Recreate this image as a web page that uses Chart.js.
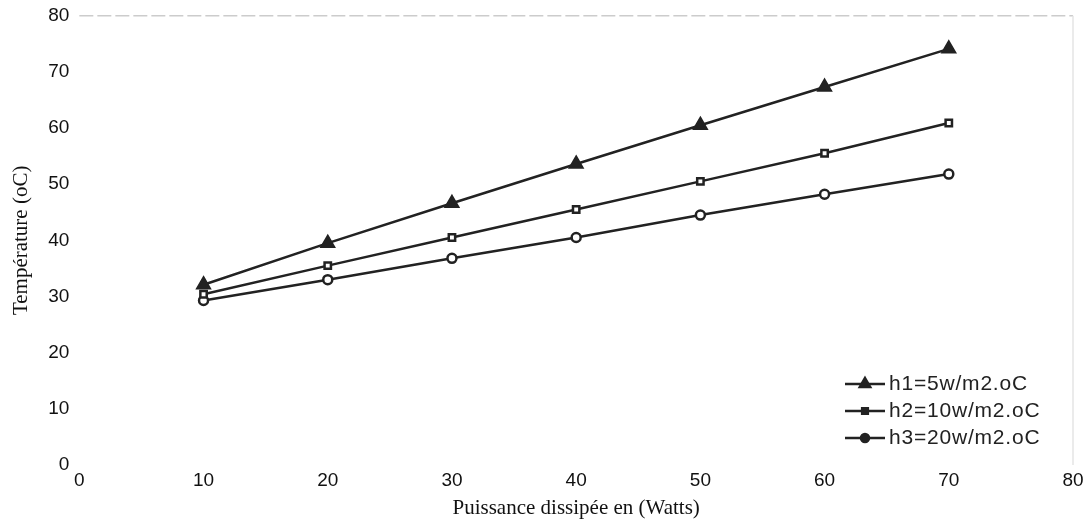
<!DOCTYPE html>
<html>
<head>
<meta charset="utf-8">
<title>Température vs puissance</title>
<script src="https://cdn.jsdelivr.net/npm/chart.js@4/dist/chart.umd.min.js"></script>
<style>
  html, body { margin: 0; padding: 0; background: #fff; }
  #chart { display: block; }
</style>
</head>
<body>
<canvas id="chart" width="1091" height="526"></canvas>
<script>
// puissance (W)
const puissance = [10, 20, 30, 40, 50, 60, 70];
// températures
const h1 = [32.1, 39.5, 46.6, 53.6, 60.5, 67.3, 74.1];
const h2 = [30.4, 35.5, 40.5, 45.5, 50.5, 55.5, 60.9];
const h3 = [29.3, 33.0, 36.8, 40.5, 44.5, 48.2, 51.8];
const noms = ['h1=5w/m2.oC', 'h2=10w/m2.oC', 'h3=20w/m2.oC'];
const styles = ['triangle', 'rect', 'circle'];

const ink = '#222';

function pts(ys) {
  return puissance.map((x, i) => ({ x: x, y: ys[i] }));
}

function serie(label, ys, style) {
  return {
    label: label,
    data: pts(ys),
    borderColor: ink,
    borderWidth: 2.5,
    pointStyle: style,
    pointRadius: style == 'triangle' ? 7 : 4.5,
    pointBorderWidth: 2.5,
    pointBorderColor: ink,
    pointBackgroundColor: style == 'triangle' ? ink : '#fff',
    tension: 0
  };
}

// legende dans le cadre, en bas a droite
const legendeInterne = {
  id: 'legendeInterne',
  afterDraw(chart) {
    const ctx = chart.ctx;
    const area = chart.chartArea;
    const x0 = area.right - 228;
    let y = area.bottom - 81;
    ctx.save();
    ctx.font = '21px "Liberation Sans", Arial, sans-serif';
    ctx.letterSpacing = '0.8px';
    ctx.textBaseline = 'middle';
    chart.data.datasets.forEach((ds, i) => {
      ctx.strokeStyle = ink;
      ctx.lineWidth = 2.5;
      ctx.beginPath();
      ctx.moveTo(x0, y);
      ctx.lineTo(x0 + 40, y);
      ctx.stroke();
      ctx.fillStyle = ink;
      Chart.helpers.drawPoint(ctx, {
        pointStyle: ds.pointStyle,
        radius: ds.pointStyle == 'triangle' ? 6 : 4,
        borderWidth: 2
      }, x0 + 20, y);
      ctx.fillStyle = ink;
      ctx.fillText(ds.label, x0 + 44, y);
      y += 27;
    });
    ctx.restore();
  }
};

// ligne pointillee claire en haut + bord droit
const cadre = {
  id: 'cadre',
  beforeDatasetsDraw(chart) {
    const ctx = chart.ctx;
    const a = chart.chartArea;
    ctx.save();
    ctx.strokeStyle = '#ccc';
    ctx.lineWidth = 1.5;
    ctx.setLineDash([14, 4]);
    ctx.beginPath();
    ctx.moveTo(a.left, a.top);
    ctx.lineTo(a.right, a.top);
    ctx.stroke();
    ctx.setLineDash([]);
    ctx.strokeStyle = '#e4e4e4';
    ctx.beginPath();
    ctx.moveTo(a.right, a.top);
    ctx.lineTo(a.right, a.bottom);
    ctx.stroke();
    ctx.restore();
  }
};

Chart.defaults.font.family = '"Liberation Sans", Arial, sans-serif';
Chart.defaults.color = '#111';

new Chart(document.getElementById('chart'), {
  type: 'line',
  data: {
    datasets: [
      serie(noms[0], h1, styles[0]),
      serie(noms[1], h2, styles[1]),
      serie(noms[2], h3, styles[2])
    ]
  },
  options: {
    responsive: false,
    animation: false,
    layout: { padding: { top: 4, right: 18, left: 5, bottom: 1 } },
    plugins: { legend: { display: false }, tooltip: { enabled: false } },
    scales: {
      x: {
        type: 'linear',
        min: 0, max: 80,
        ticks: { stepSize: 10, font: { size: 19 }, padding: 4 },
        grid: { display: false, drawTicks: false },
        border: { display: false },
        title: {
          display: true,
          text: 'Puissance dissipée en (Watts)',
          font: { family: '"Liberation Serif", "Times New Roman", serif', size: 21 },
          padding: { top: 0, bottom: 4 }
        }
      },
      y: {
        min: 0, max: 80,
        ticks: { stepSize: 10, font: { size: 19, lineHeight: 0.6 }, padding: 10 },
        grid: { display: false, drawTicks: false },
        border: { display: false },
        title: {
          display: true,
          text: 'Température (oC)',
          font: { family: '"Liberation Serif", "Times New Roman", serif', size: 21 },
          padding: { bottom: 4 }
        }
      }
    }
  },
  plugins: [cadre, legendeInterne]
});
</script>
</body>
</html>
